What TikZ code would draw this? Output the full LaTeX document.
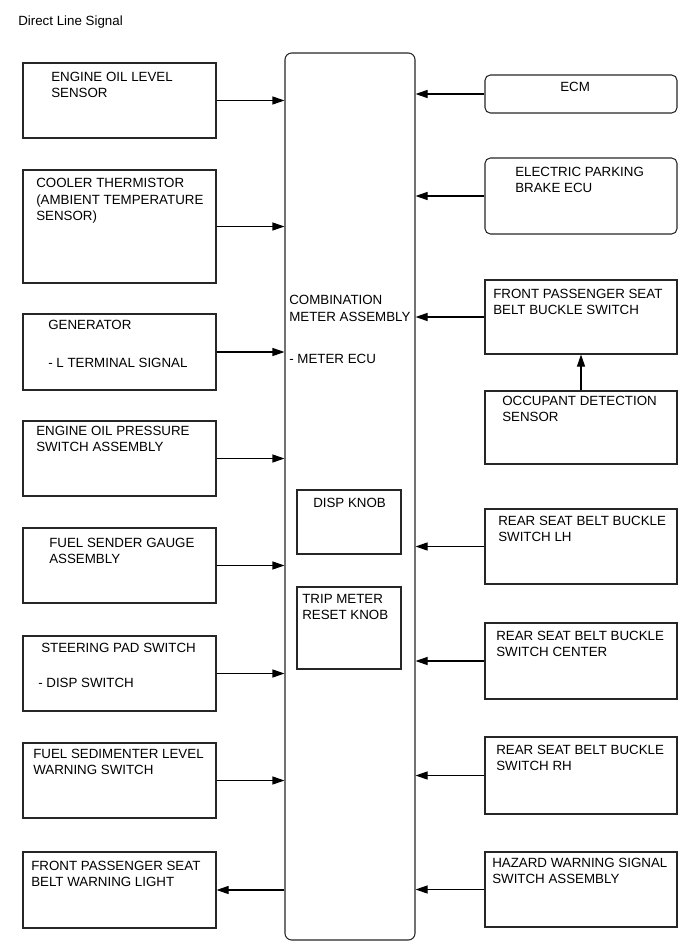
\documentclass[tikz,border=0pt]{standalone}
\usepackage{fontspec}
\setmainfont{Liberation Sans}
\usetikzlibrary{arrows.meta}
\newcommand{\bnode}[6]{\node[box,#6,minimum width={(#4-#2)*0.75pt},minimum height={(#5-#3)*0.75pt}] (#1) at ({(#2+#4)/2},{(#3+#5)/2}) {};}
\tikzset{
  box/.style={draw=black!85,line width=0.8pt,inner sep=0pt,rectangle},
  rbox/.style={rounded corners=4pt},
  lbl/.style={anchor=base west,inner sep=0pt,align=left,font=\fontsize{10pt}{12.2pt}\selectfont},
  arr/.style={draw=black,line width=0.8pt,-{Triangle[length=9pt,width=6pt]}}
}
\begin{document}
\begin{tikzpicture}[x=0.75pt,y=-0.75pt]
\useasboundingbox (0,0) rectangle (690,952);
\node[lbl] (title) at (18,26) {Direct Line Signal};
% main box
\bnode{M}{285}{53}{415}{940}{rounded corners=5pt}
\node[lbl] (Mt) at (289,363) {COMBINATION\\METER ASSEMBLY\\[19.3pt]- METER ECU};
\bnode{D1}{297}{490}{401}{554}{}
\node[lbl] (D1t) at (313,507) {DISP KNOB};
\bnode{D2}{297}{587}{401}{669}{}
\node[lbl] (D2t) at (302,619.3) {TRIP METER\\RESET KNOB};
% left boxes
\bnode{L1}{23}{63}{216}{138}{}
\node[lbl] (L1t) at (51,98) {ENGINE OIL LEVEL\\SENSOR};
\bnode{L2}{23}{170}{216}{283}{}
\node[lbl] (L2t) at (36,220.5) {COOLER THERMISTOR\\(AMBIENT TEMPERATURE\\SENSOR)};
\bnode{L3}{23}{314}{216}{390}{}
\node[lbl] (L3t) at (48,367) {GENERATOR\\[16.3pt]- L TERMINAL SIGNAL};
\bnode{L4}{23}{421}{216}{496}{}
\node[lbl] (L4t) at (36,451.3) {ENGINE OIL PRESSURE\\SWITCH ASSEMBLY};
\bnode{L5}{23}{528}{216}{603}{}
\node[lbl] (L5t) at (49,563.3) {FUEL SENDER GAUGE\\ASSEMBLY};
\bnode{L6}{23}{636}{216}{711}{}
\node[lbl] (L6t) at (41,652) {STEERING PAD SWITCH};
\node[lbl] (L6u) at (38,687) {- DISP SWITCH};
\bnode{L7}{23}{743}{216}{818}{}
\node[lbl] (L7t) at (33,774.3) {FUEL SEDIMENTER LEVEL\\WARNING SWITCH};
\bnode{L8}{23}{852}{216}{928}{}
\node[lbl] (L8t) at (31,886.3) {FRONT PASSENGER SEAT\\BELT WARNING LIGHT};
% right boxes
\bnode{R1}{485}{75}{677}{113}{rbox}
\node[lbl] (R1t) at (560,92) {ECM};
\bnode{R2}{485}{158}{677}{234}{rbox}
\node[lbl] (R2t) at (515,192.3) {ELECTRIC PARKING\\BRAKE ECU};
\bnode{R3}{485}{280}{677}{354}{}
\node[lbl] (R3t) at (493,314.3) {FRONT PASSENGER SEAT\\BELT BUCKLE SWITCH};
\bnode{R4}{485}{391}{677}{464}{}
\node[lbl] (R4t) at (502,421.3) {OCCUPANT DETECTION\\SENSOR};
\bnode{R5}{485}{509}{677}{584}{}
\node[lbl] (R5t) at (498,541.3) {REAR SEAT BELT BUCKLE\\SWITCH LH};
\bnode{R6}{485}{623}{677}{699}{}
\node[lbl] (R6t) at (496,656.3) {REAR SEAT BELT BUCKLE\\SWITCH CENTER};
\bnode{R7}{485}{737}{677}{814}{}
\node[lbl] (R7t) at (496,770.3) {REAR SEAT BELT BUCKLE\\SWITCH RH};
\bnode{R8}{485}{852}{677}{927}{}
\node[lbl] (R8t) at (492,883.3) {HAZARD WARNING SIGNAL\\SWITCH ASSEMBLY};
% connectors
\foreach \n in {L1,L2,L3,L4,L5,L6,L7}{
  \draw[arr] (\n.east) -- (M.west |- \n.east);
}
\draw[arr] (M.west |- L8.east) -- (L8.east);
\foreach \n in {R1,R2,R3,R5,R6,R7,R8}{
  \draw[arr] (\n.west) -- (M.east |- \n.west);
}
\draw[arr] (R4.north) -- (R3.south);
\end{tikzpicture}
\end{document}
